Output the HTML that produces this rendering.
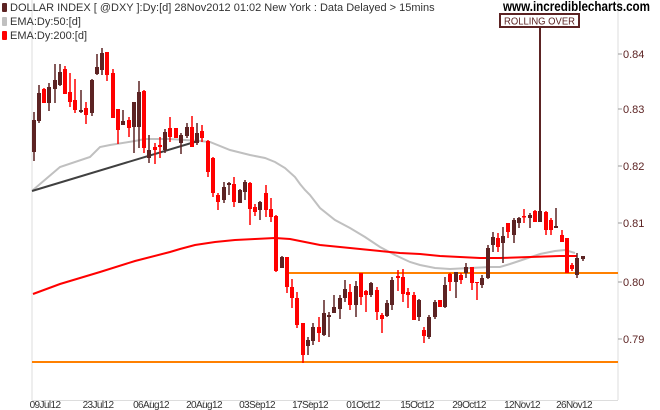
<!DOCTYPE html>
<html><head><meta charset="utf-8"><style>
html,body{margin:0;padding:0;background:#fff;}
svg{display:block;}
text{font-family:"Liberation Sans",sans-serif;}
</style></head><body>
<svg width="660" height="410" viewBox="0 0 660 410" xmlns="http://www.w3.org/2000/svg">
<rect width="660" height="410" fill="#fff"/>
<line x1="32" y1="0" x2="32" y2="400" stroke="#ddd" stroke-width="1"/>
<line x1="618" y1="0" x2="618" y2="400" stroke="#ddd" stroke-width="1"/>
<line x1="32" y1="400.5" x2="618" y2="400.5" stroke="#ddd" stroke-width="1"/>
<!-- legend -->
<rect x="2" y="3" width="5" height="9" fill="#5c2323" rx="1"/>
<text x="10" y="11" font-size="11" fill="#333">DOLLAR INDEX [ @DXY ]:Dy:[d]  28Nov2012 01:02 New York : Data Delayed &gt; 15mins</text>
<rect x="2" y="17" width="5" height="9" fill="#c0c0c0" rx="1"/>
<text x="10" y="25" font-size="11" fill="#333">EMA:Dy:50:[d]</text>
<rect x="2" y="31" width="5" height="9" fill="#ff0000" rx="1"/>
<text x="10" y="39" font-size="11" fill="#333">EMA:Dy:200:[d]</text>
<text x="503" y="11" font-size="14" font-weight="bold" fill="#000" textLength="147" lengthAdjust="spacingAndGlyphs">www.incrediblecharts.com</text>
<!-- orange lines -->
<line x1="32" y1="362" x2="618" y2="362" stroke="#ff8000" stroke-width="2"/>
<line x1="287" y1="273" x2="618" y2="273" stroke="#ff8000" stroke-width="2"/>
<!-- EMA lines -->
<polyline fill="none" stroke="#c0c0c0" stroke-width="2" points="33,190 60,167 90,157 100,147 110,145 135,141 145,139 170,139 200,141 210,142 230,150 250,155 265,158 275,162 285,168 295,177 300,184 305,190 310,195 320,208 335,220 350,228 365,237 380,247 395,255 410,262 420,265 435,268 450,269 470,268 490,267 500,267 510,264 525,259 540,254 555,251 565,250 575,253"/>
<polyline fill="none" stroke="#ff0000" stroke-width="2" points="33,294 60,284 100,272 135,261 170,252 180,249 195,245 215,242 235,240 255,239 275,238 290,239 300,241 320,245 340,247 360,249 380,251 400,253 420,254 440,256 460,257 480,258 500,258 530,257 560,256 577,256"/>
<line x1="32" y1="191" x2="198" y2="141" stroke="#404040" stroke-width="2"/>
<!-- annotation -->
<line x1="540" y1="27" x2="540" y2="212" stroke="#5c2323" stroke-width="2"/>
<rect x="500" y="14" width="79" height="13" fill="#fff" stroke="#5c2323" stroke-width="2"/>
<text x="504" y="24.5" font-size="10" fill="#5c2323" textLength="71" lengthAdjust="spacingAndGlyphs">ROLLING OVER</text>
<!-- candles -->
<g fill="#5c2323" stroke="#5c2323">
<path stroke-width="1.5" fill="none" d="M34 112V161M39 85V123M49 83V111M55 64V103M60 64V86M81 90V113M92 79V116M97 54V75M102 48V75M123 110V125M134 102V153M139 81V148M149 135V163M165 129V153M181 133V154M187 123V138M197 123V145M224 182V203M229 182V195M240 189V203M245 180V200M260 201V220M282 256V268M308 337V355M313 323V345M324 300V336M329 312V337M334 295V313M340 295V319M345 280V302M356 281V317M371 282V297M387 300V317M392 277V310M419 299V321M429 315V339M435 300V319M445 277V308M456 272V298M466 263V278M482 275V288M488 245V279M493 232V252M503 227V263M514 218V243M519 217V228M530 213V228M540 210V222M556 208V228M577 253V278M583 256V261"/>
<path stroke="none" d="M32 120h4v32h-4zM37 93h4v28h-4zM47 87h4v16h-4zM53 80h4v9h-4zM58 72h4v13h-4zM79 110h4v2h-4zM90 80h4v33h-4zM95 67h4v7h-4zM100 53h4v17h-4zM121 121h4v4h-4zM132 102h4v25h-4zM137 92h4v35h-4zM147 150h4v8h-4zM163 132h4v18h-4zM179 135h4v8h-4zM185 127h4v9h-4zM195 133h4v10h-4zM222 187h4v13h-4zM227 183h4v2h-4zM238 190h4v13h-4zM243 182h4v10h-4zM258 202h4v8h-4zM280 257h4v11h-4zM306 340h4v6h-4zM311 327h4v14h-4zM322 313h4v22h-4zM327 315h4v2h-4zM332 307h4v6h-4zM338 298h4v11h-4zM343 289h4v9h-4zM354 286h4v19h-4zM369 283h4v12h-4zM385 303h4v13h-4zM390 280h4v25h-4zM417 300h4v17h-4zM427 317h4v20h-4zM433 302h4v15h-4zM443 285h4v22h-4zM454 272h4v10h-4zM464 267h4v6h-4zM480 278h4v7h-4zM486 248h4v30h-4zM491 237h4v8h-4zM501 236h4v7h-4zM512 220h4v15h-4zM517 218h4v5h-4zM528 215h4v3h-4zM538 211h4v11h-4zM554 226h4v2h-4zM575 258h4v17h-4zM581 256h4v3h-4z"/>
</g>
<g fill="#ff0000" stroke="#ff0000">
<path stroke-width="1.5" fill="none" d="M44 88V103M65 66V94M70 73V107M75 79V113M86 102V124M107 52V81M113 69V118M118 109V144M129 117V137M144 90V153M155 143V164M160 137V158M170 117V142M176 128V138M192 116V147M202 125V142M208 140V177M213 157V197M218 193V210M234 177V207M250 182V225M255 204V216M266 185V217M271 198V222M276 215V272M287 257V293M292 279V308M297 292V328M303 323V363M319 317V342M350 284V310M361 273V305M366 290V312M377 287V320M382 313V333M398 270V291M403 269V302M408 288V308M414 292V320M424 327V343M440 300V307M450 273V291M461 273V284M472 267V290M477 282V300M498 233V252M508 223V238M524 209V223M535 210V222M546 211V235M551 218V235M562 230V242M567 238V273M572 263V271"/>
<path stroke="none" d="M42 89h4v14h-4zM63 69h4v25h-4zM68 92h4v10h-4zM73 100h4v10h-4zM84 108h4v7h-4zM105 52h4v23h-4zM111 73h4v45h-4zM116 109h4v21h-4zM127 120h4v8h-4zM142 91h4v57h-4zM153 147h4v3h-4zM158 145h4v2h-4zM168 128h4v9h-4zM174 128h4v10h-4zM190 127h4v20h-4zM200 131h4v7h-4zM206 141h4v31h-4zM211 158h4v35h-4zM216 195h4v7h-4zM232 184h4v18h-4zM248 183h4v26h-4zM253 207h4v5h-4zM264 193h4v17h-4zM269 209h4v8h-4zM274 216h4v55h-4zM285 257h4v30h-4zM290 287h4v11h-4zM295 298h4v27h-4zM301 323h4v32h-4zM317 327h4v6h-4zM348 292h4v13h-4zM359 273h4v24h-4zM364 291h4v4h-4zM375 290h4v22h-4zM380 315h4v4h-4zM396 276h4v2h-4zM401 277h4v17h-4zM406 292h4v3h-4zM412 295h4v25h-4zM422 330h4v6h-4zM438 300h4v7h-4zM448 274h4v8h-4zM459 275h4v5h-4zM470 267h4v16h-4zM475 282h4v1h-4zM496 238h4v9h-4zM506 223h4v9h-4zM522 216h4v1.5h-4zM533 211h4v11h-4zM544 212h4v18h-4zM549 220h4v10h-4zM560 235h4v7h-4zM565 238h4v35h-4zM570 265h4v4h-4z"/>
</g>
<!-- y axis -->
<g stroke="#999" stroke-width="1">
<line x1="618" y1="54" x2="622" y2="54"/><line x1="618" y1="109" x2="622" y2="109"/><line x1="618" y1="166" x2="622" y2="166"/><line x1="618" y1="223" x2="622" y2="223"/><line x1="618" y1="282" x2="622" y2="282"/><line x1="618" y1="339" x2="622" y2="339"/>
</g>
<g font-size="11" fill="#5c2323">
<text x="623" y="58">0.84</text><text x="623" y="113">0.83</text><text x="623" y="170">0.82</text><text x="623" y="227">0.81</text><text x="623" y="286">0.80</text><text x="623" y="343">0.79</text>
</g>
<!-- x axis -->
<g stroke="#bbb" stroke-width="1">
<line x1="45" y1="400" x2="45" y2="404"/><line x1="98" y1="400" x2="98" y2="404"/><line x1="151" y1="400" x2="151" y2="404"/><line x1="204" y1="400" x2="204" y2="404"/><line x1="257" y1="400" x2="257" y2="404"/><line x1="310" y1="400" x2="310" y2="404"/><line x1="363" y1="400" x2="363" y2="404"/><line x1="417" y1="400" x2="417" y2="404"/><line x1="469" y1="400" x2="469" y2="404"/><line x1="522" y1="400" x2="522" y2="404"/><line x1="574" y1="400" x2="574" y2="404"/>
</g>
<g font-size="10" fill="#333" text-anchor="middle" letter-spacing="-0.6">
<text x="45" y="408">09Jul12</text><text x="98" y="408">23Jul12</text><text x="151" y="408">06Aug12</text><text x="204" y="408">20Aug12</text><text x="257" y="408">03Sep12</text><text x="310" y="408">17Sep12</text><text x="363" y="408">01Oct12</text><text x="417" y="408">15Oct12</text><text x="469" y="408">29Oct12</text><text x="522" y="408">12Nov12</text><text x="574" y="408">26Nov12</text>
</g>
</svg>
</body></html>
